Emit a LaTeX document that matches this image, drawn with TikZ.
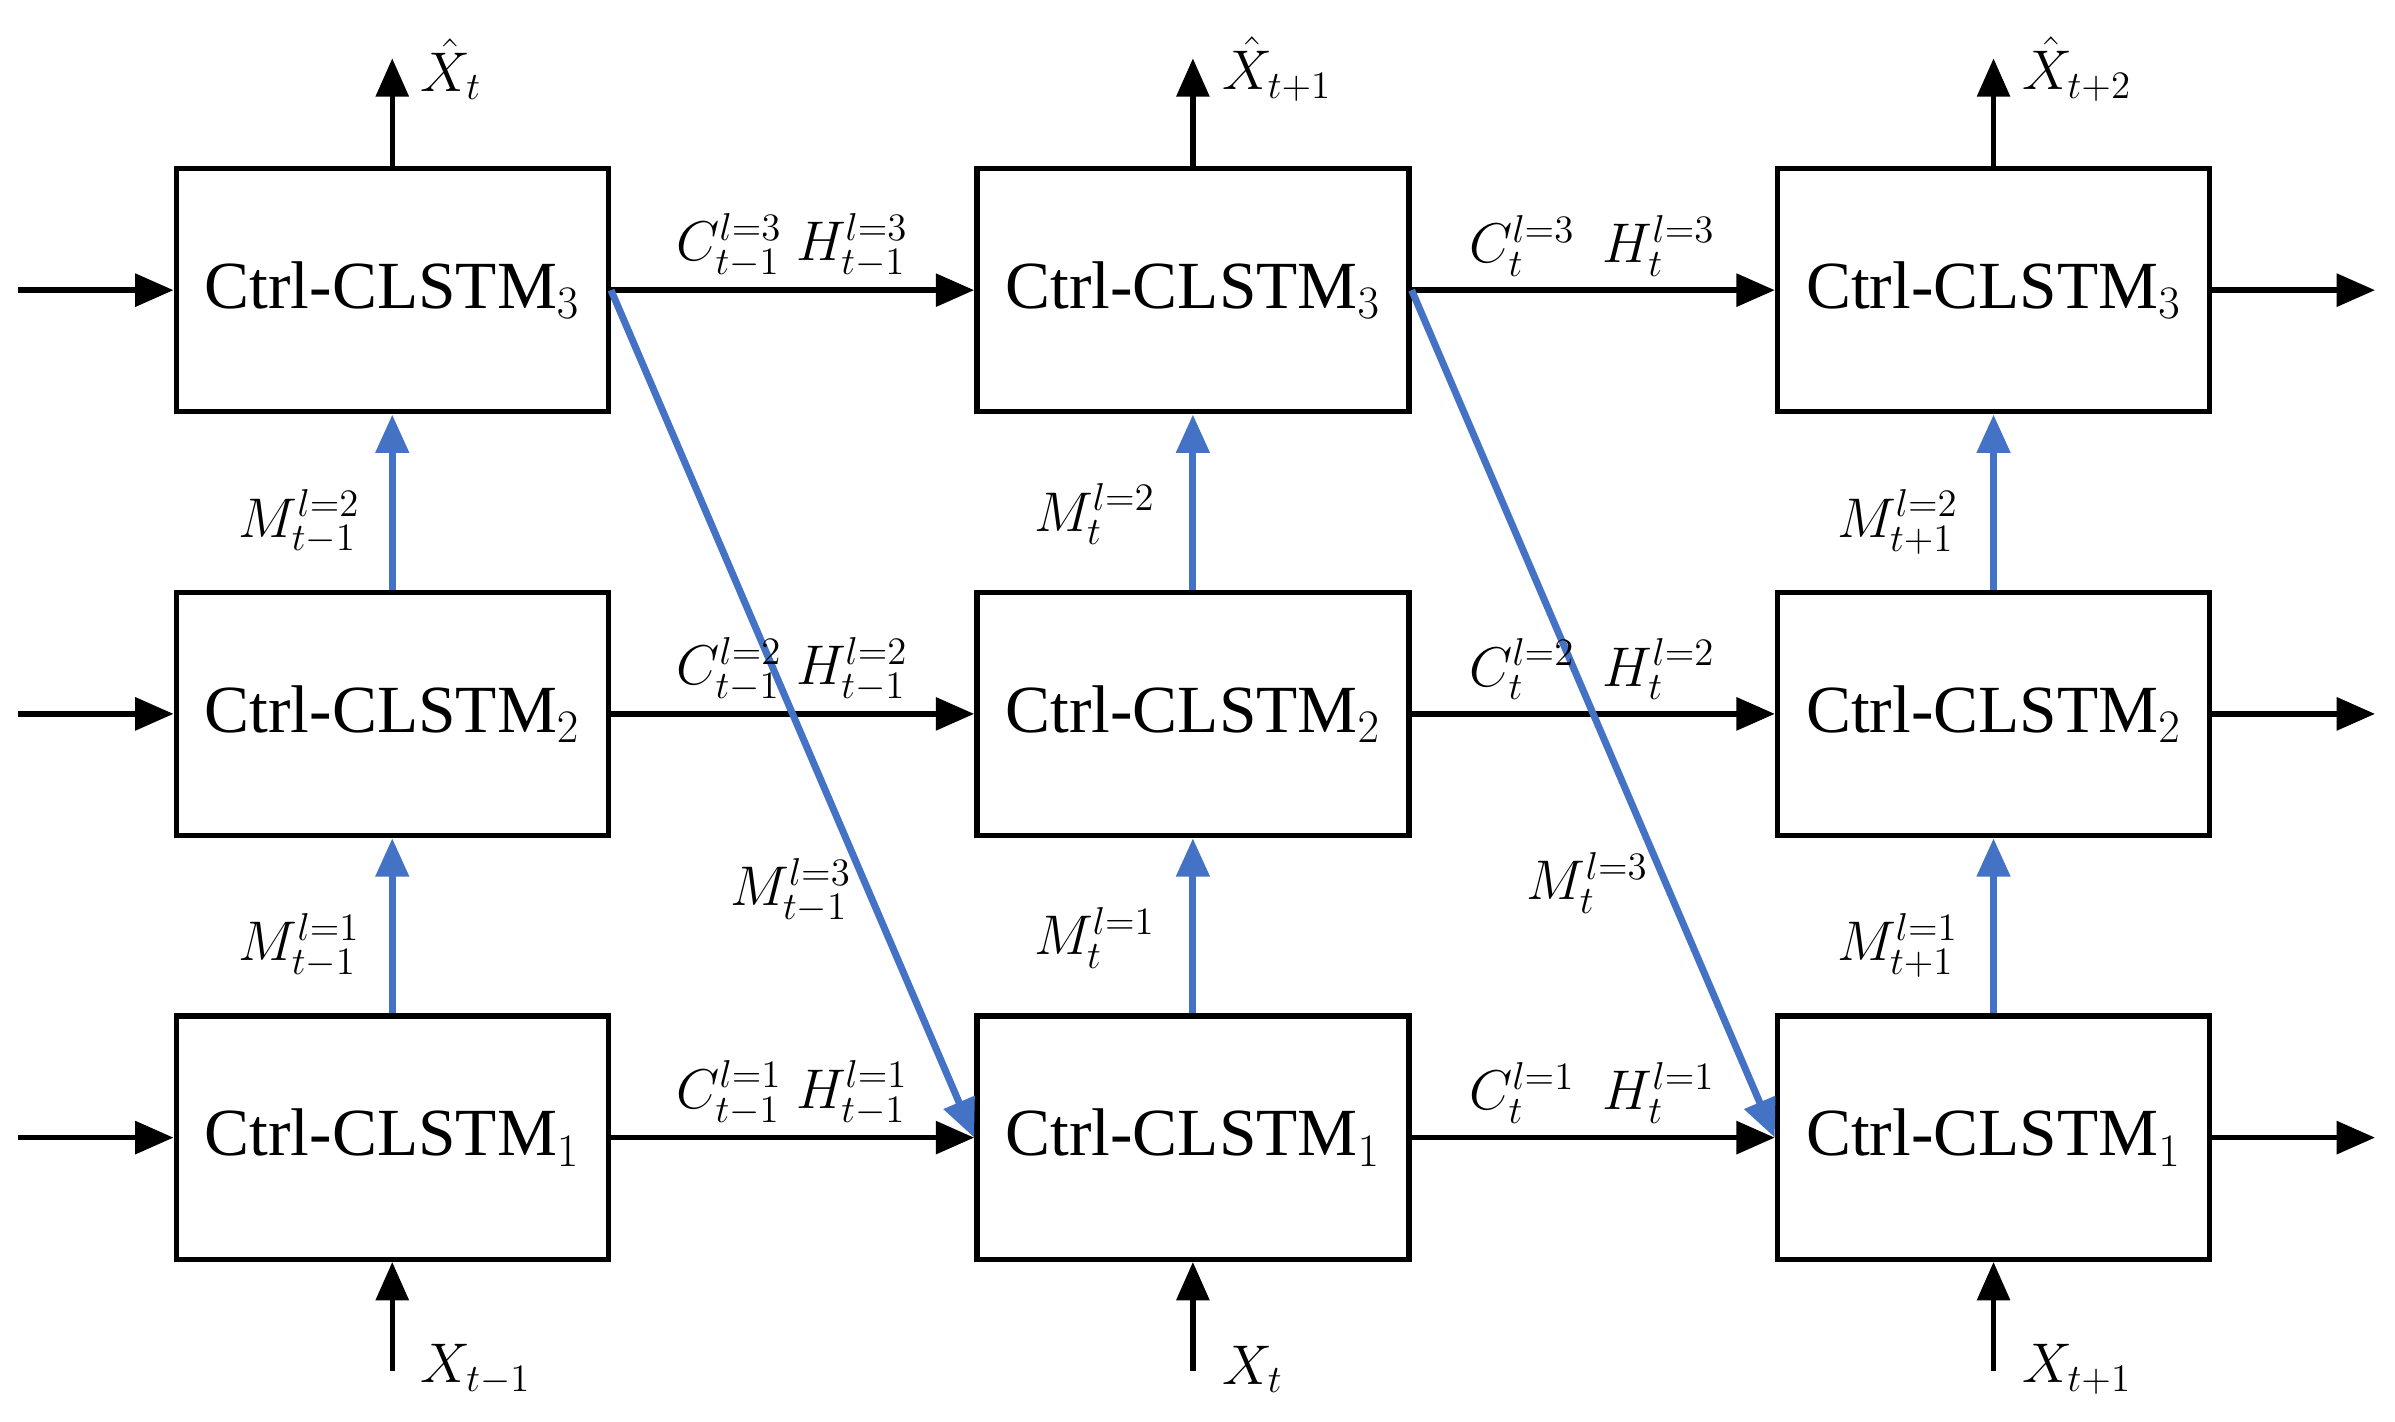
\documentclass[tikz,border=0pt]{standalone}
\usepackage{fontspec}
\setmainfont{Liberation Serif}
\usetikzlibrary{arrows.meta}
\definecolor{myblue}{HTML}{4472C4}
\begin{document}
\begin{tikzpicture}[x=0.02cm,y=-0.02cm,
  box/.style={draw,line width=2pt,minimum width=5.63cm,minimum height=3.17cm,font=\fontsize{25}{28}\selectfont,inner sep=0pt},
  blk/.style={line width=2pt,-{Triangle[length=0.5cm,width=0.42cm]}},
  blu/.style={line width=2.6pt,myblue,-{Triangle[length=0.5cm,width=0.42cm]}},
  lab/.style={font=\fontsize{21}{23}\selectfont}]
\useasboundingbox (0,0) rectangle (1560,925.6);
\foreach \c/\x in {1/255.5,2/777,3/1298.5}{
  \foreach \r/\y/\k in {3/189/3,2/465/2,1/741/1}{
    \node[box] (b\c\r) at (\x,\y) {Ctrl-CLSTM$_{\k}$};
  }
  \coordinate (top\c) at (\x,38);
  \coordinate (bot\c) at (\x,893);
  \draw[blk] (b\c3.north) -- (top\c);
  \draw[blk] (bot\c) -- (b\c1.south);
  \draw[blu] (b\c1.north) -- (b\c2.south);
  \draw[blu] (b\c2.north) -- (b\c3.south);
}
\foreach \r in {1,2,3}{
  \coordinate (in\r) at (12,0 |- b1\r);
  \coordinate (out\r) at (1547,0 |- b3\r);
  \draw[blk] (in\r) -- (b1\r.west);
  \draw[blk] (b3\r.east) -- (out\r);
  \draw[blk] (b1\r.east) -- (b2\r.west);
  \draw[blk] (b2\r.east) -- (b3\r.west);
}
\draw[blu] (b13.east) -- (b21.west);
\draw[blu] (b23.east) -- (b31.west);
% outputs
\node[lab,anchor=west] (xh1) at (268,45) {$\hat{X}_t$};
\node[lab,anchor=west] (xh2) at (790,45) {$\hat{X}_{t+1}$};
\node[lab,anchor=west] (xh3) at (1311,45) {$\hat{X}_{t+2}$};
\node[lab,anchor=west] (x1) at (268,892) {$X_{t-1}$};
\node[lab,anchor=west] (x2) at (790,892) {$X_{t}$};
\node[lab,anchor=west] (x3) at (1311,892) {$X_{t+1}$};
% C H labels
\foreach \r/\y in {3/160,2/436,1/712}{
  \node[lab] (ch1\r) at (516,\y) {$C^{l=\r}_{t-1}\ H^{l=\r}_{t-1}$};
  \node[lab] (ch2\r) at (1037,\y) {$C^{l=\r}_{t}\ \ H^{l=\r}_{t}$};
}
% M labels
\node[lab] (m12) at (195,340) {$M^{l=2}_{t-1}$};
\node[lab] (m11) at (195,616) {$M^{l=1}_{t-1}$};
\node[lab] (m22) at (713,335) {$M^{l=2}_{t}$};
\node[lab] (m21) at (713,611) {$M^{l=1}_{t}$};
\node[lab] (m32) at (1236,340) {$M^{l=2}_{t+1}$};
\node[lab] (m31) at (1236,616) {$M^{l=1}_{t+1}$};
\node[lab] (m13) at (515,580) {$M^{l=3}_{t-1}$};
\node[lab] (m23) at (1034,575) {$M^{l=3}_{t}$};
\end{tikzpicture}
\end{document}
